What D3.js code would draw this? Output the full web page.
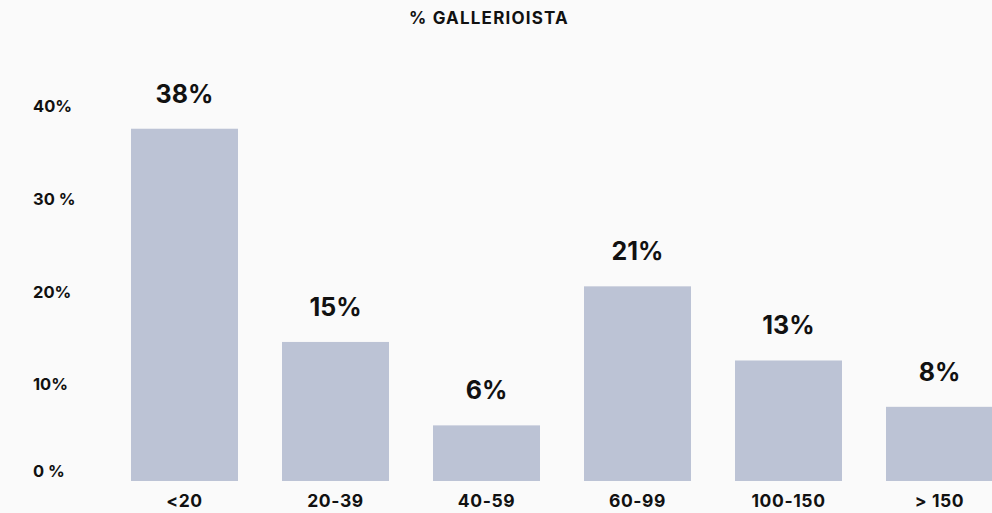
<!DOCTYPE html>
<html><head><meta charset="utf-8">
<script src="https://cdn.jsdelivr.net/npm/d3@7"></script>
<style>
html,body{margin:0;padding:0;background:#fafafa;}
svg{display:block;font-family:Inter,"Noto Sans",sans-serif;}
</style></head>
<body><svg id="c" width="992" height="513"></svg>
<script>
const title = "% GALLERIOISTA";
const categories = ["<20","20-39","40-59","60-99","100-150","> 150"];
const values = [38, 15, 6, 21, 13, 8];
const valueLabels = ["38%","15%","6%","21%","13%","8%"];
const yTicks = [0, 10, 20, 30, 40];
const yTickLabels = ["0 %","10%","20%","30 %","40%"];

const svg = d3.select("#c");
const W = 992, H = 513;
const x = d3.scaleBand().domain(categories).range([131, 993]).paddingInner(0.2914).paddingOuter(0);
const y = d3.scaleLinear().domain([0, 40]).range([481, 110.2]);

svg.append("rect").attr("width", W).attr("height", H).attr("fill", "#fafafa");

svg.append("text").attr("x", 489).attr("y", 24).attr("text-anchor", "middle")
  .attr("font-size", 17).attr("font-weight", 700).attr("letter-spacing", 1.2)
  .attr("fill", "#111").text(title);

svg.selectAll("rect.bar").data(values).join("rect").attr("class","bar")
  .attr("x", (d,i) => x(categories[i])).attr("width", x.bandwidth())
  .attr("y", d => y(d)).attr("height", d => y(0) - y(d))
  .attr("fill", "#bcc3d5");

svg.selectAll("text.val").data(values).join("text").attr("class","val")
  .attr("x", (d,i) => x(categories[i]) + x.bandwidth()/2)
  .attr("y", d => y(d) - 26)
  .attr("text-anchor","middle").attr("font-size", 25).attr("font-weight", 700)
  .attr("fill", "#111").text((d,i) => valueLabels[i]);

// x axis labels
const xAxis = d3.axisBottom(x).tickSize(0).tickPadding(0);
const gx = svg.append("g").attr("transform", `translate(0,${y(0) + 26})`).call(xAxis);
gx.select(".domain").remove();
gx.selectAll("text").attr("font-size", 17.5).attr("font-weight", 700).attr("fill", "#111")
  .attr("letter-spacing", 0.6)
  .attr("font-family", "Inter,'Noto Sans',sans-serif").attr("dy", "0");

// y axis labels
const yAxis = d3.axisLeft(y).tickValues(yTicks).tickFormat((d,i) => yTickLabels[i]).tickSize(0).tickPadding(0);
const gy = svg.append("g").attr("transform", "translate(33,0)").call(yAxis);
gy.select(".domain").remove();
gy.selectAll(".tick").attr("transform", d => `translate(0,${y(d) + (d===0 ? -4 : 2)})`);
gy.selectAll("text").attr("text-anchor","start").attr("font-size", 16.5).attr("font-weight", 700)
  .attr("dy", "0")
  .attr("fill", "#111").attr("font-family", "Inter,'Noto Sans',sans-serif");
</script></body></html>
